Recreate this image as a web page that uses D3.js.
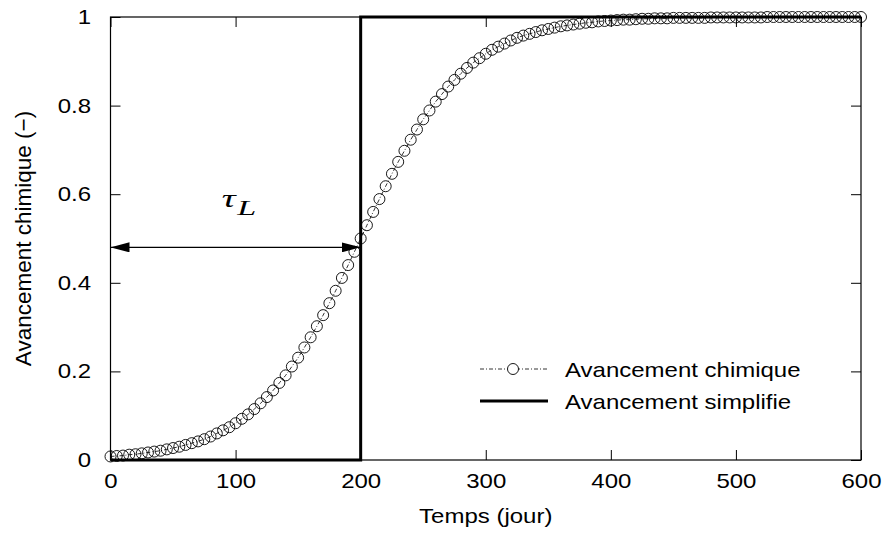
<!DOCTYPE html>
<html>
<head>
<meta charset="utf-8">
<script src="https://cdn.jsdelivr.net/npm/d3@7"></script>
<style>
  body { margin: 0; background: #fff; }
  text { font-family: "Liberation Sans", Arial, sans-serif; fill: #000; }
</style>
</head>
<body>
<svg id="chart"></svg>
<script>
const width = 886;
const height = 539;
const marginTop = 17;
const marginRight = 25;
const marginBottom = 79;
const marginLeft = 110.5;

// temps (jour), un point tous les 5 jours
const times = d3.range(0, 601, 5);
// avancement chimique
const avancement = [
  0.008, 0.009, 0.010, 0.012, 0.013, 0.015, 0.017, 0.019, 0.021, 0.024,
  0.027, 0.030, 0.034, 0.038, 0.042, 0.047, 0.053, 0.060, 0.067, 0.074,
  0.083, 0.093, 0.103, 0.115, 0.128, 0.142, 0.157, 0.174, 0.191, 0.211,
  0.231, 0.254, 0.277, 0.302, 0.327, 0.354, 0.382, 0.411, 0.440, 0.470,
  0.500, 0.530, 0.560, 0.589, 0.618, 0.646, 0.673, 0.698, 0.723, 0.746,
  0.769, 0.789, 0.809, 0.826, 0.843, 0.858, 0.872, 0.885, 0.897, 0.907,
  0.917, 0.926, 0.933, 0.940, 0.947, 0.953, 0.958, 0.962, 0.966, 0.970,
  0.973, 0.976, 0.979, 0.981, 0.983, 0.985, 0.987, 0.988, 0.990, 0.991,
  0.992, 0.993, 0.994, 0.994, 0.995, 0.996, 0.996, 0.997, 0.997, 0.997,
  0.998, 0.998, 0.998, 0.998, 0.998, 0.998, 0.999, 0.999, 0.999, 0.999,
  0.999, 0.999, 0.999, 0.999, 0.999, 1.000, 1.000, 1.000, 1.000, 1.000,
  1.000, 1.000, 1.000, 1.000, 1.000, 1.000, 1.000, 1.000, 1.000, 1.000,
  1.000
];
// avancement simplifie (marche a t = tau_L)
const stepTimes = [0, 200, 200, 600];
const stepValues = [0, 0, 1, 1];

// fleche tau_L
const arrowStart = 0;
const arrowEnd = 200;
const arrowLevel = 0.48;

const xTicks = [0, 100, 200, 300, 400, 500, 600];
const yTicks = [0, 0.2, 0.4, 0.6, 0.8, 1];
const legendLabels = ["Avancement chimique", "Avancement simplifie"];

const stretch = 1.2; // police un peu etiree horizontalement

const svg = d3.select("#chart").attr("width", width).attr("height", height);

const xScale = d3.scaleLinear().domain([0, 600]).range([marginLeft, width - marginRight]);
const yScale = d3.scaleLinear().domain([0, 1]).range([height - marginBottom, marginTop]);

// marqueur de fleche
svg.append("defs").append("marker")
  .attr("id", "head")
  .attr("markerUnits", "userSpaceOnUse")
  .attr("viewBox", "0 -5 19 10")
  .attr("markerWidth", 19)
  .attr("markerHeight", 10)
  .attr("refX", 19)
  .attr("refY", 0)
  .attr("orient", "auto-start-reverse")
  .append("path")
  .attr("d", "M0,-5L19,0L0,5Z")
  .attr("fill", "#000");

// axes (ticks vers l'interieur, sur les quatre cotes)
const fmt = (d) => d3.format("")(d);

const xAxis = svg.append("g")
  .attr("transform", `translate(0,${height - marginBottom})`)
  .call(d3.axisBottom(xScale).tickValues(xTicks).tickSize(-10).tickPadding(14).tickFormat(fmt));
xAxis.selectAll("text")
  .style("font-size", "20px")
  .attr("transform", `scale(${stretch},1)`);

svg.append("g")
  .attr("transform", `translate(0,${marginTop})`)
  .call(d3.axisTop(xScale).tickValues(xTicks).tickSize(-10).tickFormat(""));

const yAxis = svg.append("g")
  .attr("transform", `translate(${marginLeft},0)`)
  .call(d3.axisLeft(yScale).tickValues(yTicks).tickSize(-10).tickFormat(fmt));
yAxis.selectAll("text")
  .style("font-size", "20px")
  .attr("x", -19.5 / stretch)
  .attr("transform", `scale(${stretch},1)`);

svg.append("g")
  .attr("transform", `translate(${width - marginRight},0)`)
  .call(d3.axisRight(yScale).tickValues(yTicks).tickSize(-10).tickFormat(""));

svg.selectAll(".domain").remove();
svg.selectAll(".tick line").attr("stroke", "#000").attr("stroke-width", 1);

// cadre
svg.append("rect")
  .attr("x", marginLeft)
  .attr("y", marginTop)
  .attr("width", width - marginRight - marginLeft)
  .attr("height", height - marginBottom - marginTop)
  .attr("fill", "none")
  .attr("stroke", "#000")
  .attr("stroke-width", 1.2);

// titres des axes
svg.append("text")
  .attr("transform", `translate(${(marginLeft + width - marginRight) / 2},523) scale(${stretch},1)`)
  .attr("text-anchor", "middle")
  .style("font-size", "20px")
  .text("Temps (jour)");

svg.append("text")
  .attr("transform", `translate(31,${(marginTop + height - marginBottom) / 2}) rotate(-90)`)
  .attr("text-anchor", "middle")
  .style("font-size", "22.5px")
  .text("Avancement chimique (\u2212)");

// courbe avancement chimique
const pts = times.map((t, i) => ({ t: t, v: avancement[i] }));
const line = d3.line().x((d) => xScale(d.t)).y((d) => yScale(d.v));

svg.append("path")
  .datum(pts)
  .attr("fill", "none")
  .attr("stroke", "#000")
  .attr("stroke-width", 0.8)
  .attr("stroke-dasharray", "4,2,1,2")
  .attr("d", line);

svg.append("g")
  .selectAll("circle")
  .data(pts)
  .join("circle")
  .attr("cx", (d) => xScale(d.t))
  .attr("cy", (d) => yScale(d.v))
  .attr("r", 5.5)
  .attr("fill", "none")
  .attr("stroke", "#000")
  .attr("stroke-width", 0.9);

// avancement simplifie
const step = stepTimes.map((t, i) => ({ t: t, v: stepValues[i] }));
svg.append("path")
  .datum(step)
  .attr("fill", "none")
  .attr("stroke", "#000")
  .attr("stroke-width", 3)
  .attr("d", line);

// fleche tau_L
svg.append("line")
  .attr("x1", xScale(arrowStart))
  .attr("x2", xScale(arrowEnd))
  .attr("y1", yScale(arrowLevel))
  .attr("y2", yScale(arrowLevel))
  .attr("stroke", "#000")
  .attr("stroke-width", 1.2)
  .attr("marker-start", "url(#head)")
  .attr("marker-end", "url(#head)");

const tau = svg.append("text")
  .attr("transform", `translate(${xScale(89)},${yScale(0.57)}) scale(1.55,1)`)
  .style("font-family", "'Liberation Serif', 'DejaVu Serif', serif")
  .style("font-style", "italic")
  .style("font-size", "25px");
tau.append("tspan").text("\u03c4");
tau.append("tspan").attr("dy", 8).attr("dx", 1).style("font-size", "22px").text("L");

// legende
const legend = svg.append("g");
const legendY = [369, 401];

legend.append("line")
  .attr("x1", 480).attr("x2", 548)
  .attr("y1", legendY[0]).attr("y2", legendY[0])
  .attr("stroke", "#000")
  .attr("stroke-width", 0.8)
  .attr("stroke-dasharray", "4,2,1,2");
legend.append("circle")
  .attr("cx", 513).attr("cy", legendY[0]).attr("r", 5.5)
  .attr("fill", "#fff").attr("stroke", "#000").attr("stroke-width", 0.9);

legend.append("line")
  .attr("x1", 480).attr("x2", 548)
  .attr("y1", legendY[1]).attr("y2", legendY[1])
  .attr("stroke", "#000")
  .attr("stroke-width", 3);

legendLabels.forEach((lab, i) => {
  legend.append("text")
    .attr("transform", `translate(565,${legendY[i] + 7.5}) scale(${stretch},1)`)
    .style("font-size", "20px")
    .text(lab);
});
</script>
</body>
</html>
